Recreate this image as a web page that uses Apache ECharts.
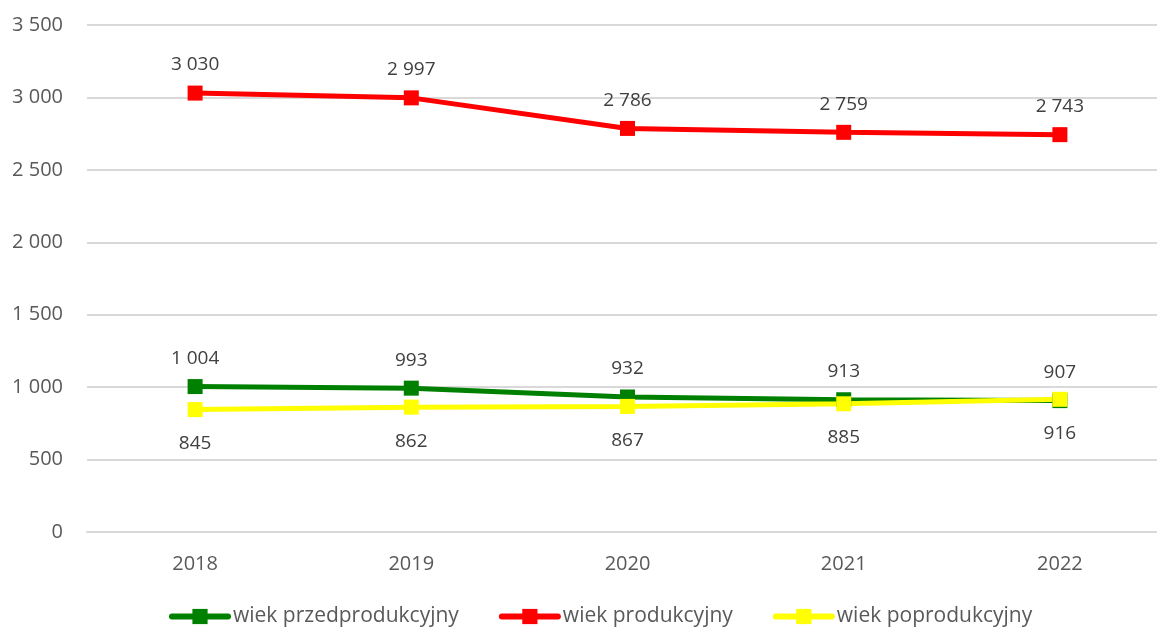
<!DOCTYPE html>
<html><head><meta charset="utf-8">
<script src="https://cdn.jsdelivr.net/npm/echarts@6/dist/echarts.min.js"></script>
<style>html,body{margin:0;padding:0;background:#fff;overflow:hidden}#c{width:1168px;height:630px}</style>
</head><body><div id="c"></div>
<script>
const categories = ['2018','2019','2020','2021','2022'];
const przed = [1004, 993, 932, 913, 907];
const prod = [3030, 2997, 2786, 2759, 2743];
const poprod = [845, 862, 867, 885, 916];
const yTicks = [0, 500, 1000, 1500, 2000, 2500, 3000, 3500];
const seriesNames = ['wiek przedprodukcyjny','wiek produkcyjny','wiek poprodukcyjny'];

const fmt = v => String(v).replace(/\B(?=(\d{3})+(?!\d))/g, '\u00a0');
const font = '"Open Sans", "Noto Sans", sans-serif';

function mk(name, data, color, pos, dist) {
  return {
    name, type: 'line', data,
    symbol: 'rect', symbolSize: 15,
    lineStyle: { color, width: 5 },
    itemStyle: { color },
    label: { show: true, position: pos, distance: dist, color: '#404040', fontSize: 19, fontFamily: font,
      formatter: p => fmt(p.value) },
    emphasis: { disabled: true },
    animation: false
  };
}

const chart = echarts.init(document.getElementById('c'));
chart.setOption({
  backgroundColor: '#fff',
  animation: false,
  grid: { left: 87, right: 0, top: 25, bottom: 98, containLabel: false },
  legend: {
    top: 606, left: 169, padding: 0,
    itemWidth: 56, itemHeight: 19, itemGap: 40,
    lineStyle: { width: 6, cap: 'round' },
    textStyle: { color: '#595959', fontSize: 21, fontFamily: font },
    data: seriesNames
  },
  xAxis: {
    type: 'category', data: categories, boundaryGap: true,
    axisLine: { show: true, lineStyle: { color: '#d9d9d9', width: 2 } },
    axisTick: { show: false },
    axisLabel: { color: '#595959', fontSize: 20, fontFamily: font, margin: 22 }
  },
  yAxis: {
    type: 'value', min: yTicks[0], max: yTicks[yTicks.length - 1], interval: yTicks[1] - yTicks[0],
    axisLine: { show: false }, axisTick: { show: false },
    splitLine: { lineStyle: { color: '#d9d9d9', width: 2 } },
    axisLabel: { color: '#595959', fontSize: 20, fontFamily: font, margin: 24, formatter: v => fmt(v) }
  },
  series: [
    mk(seriesNames[0], przed, '#008000', 'top', 11),
    mk(seriesNames[1], prod, '#ff0000', 'top', 11),
    mk(seriesNames[2], poprod, '#ffff00', 'bottom', 17)
  ]
});
</script></body></html>
